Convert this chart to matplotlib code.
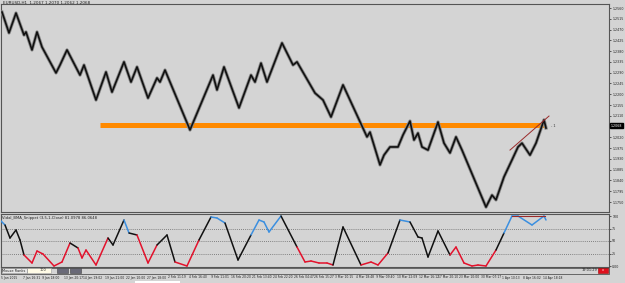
import numpy as np
import matplotlib
matplotlib.use("Agg")
import matplotlib.pyplot as plt
from matplotlib.collections import LineCollection
from matplotlib.patches import Rectangle

# ---------------- data ----------------
price_x = [2, 9, 16, 24, 26, 32, 37, 42, 56, 60, 67, 80, 84, 96, 106, 112, 124, 131, 137, 148,
           157, 160, 165, 190, 213, 217, 224, 239, 251, 255, 261, 267, 282, 293, 297, 315, 323,
           331, 343, 367, 370, 380, 384, 390, 398, 403, 410, 414, 418, 422, 428, 438, 444, 450,
           456, 462, 486, 492, 496, 504, 512, 518, 522, 530, 536, 544, 546]
price_y = [1.2543, 1.2456, 1.2539, 1.2447, 1.2460, 1.2385, 1.2460, 1.2397, 1.2289, 1.2322,
           1.2385, 1.2280, 1.2322, 1.2176, 1.2293, 1.2209, 1.2335, 1.2251, 1.2314, 1.2184,
           1.2268, 1.2251, 1.2301, 1.2051, 1.2280, 1.2218, 1.2314, 1.2143, 1.2280, 1.2251,
           1.2330, 1.2251, 1.2414, 1.2322, 1.2335, 1.2205, 1.2176, 1.2105, 1.2239, 1.2022,
           1.2042, 1.1905, 1.1946, 1.1980, 1.1980, 1.2030, 1.2088, 1.2009, 1.2038, 1.1980,
           1.1967, 1.2084, 1.1996, 1.1955, 1.2022, 1.1967, 1.1729, 1.1779, 1.1759, 1.1855,
           1.1926, 1.1980, 1.1996, 1.1946, 1.1996, 1.2093, 1.2059]

support_level = 1.2073
support_x = [100, 545]
trend_x = [510, 549]
trend_y = [1.1967, 1.2109]
last_price = 1.2068

osc_x = [0, 5, 10, 16, 20, 24, 32, 37, 43, 54, 62, 70, 78, 82, 86, 96, 108, 113, 124, 129,
         137, 148, 157, 167, 175, 187, 199, 211, 217, 225, 238, 251, 259, 264, 269, 281, 297,
         305, 311, 319, 327, 333, 343, 361, 371, 378, 388, 400, 410, 418, 422, 428, 438, 450,
         456, 464, 472, 478, 486, 496, 504, 512, 518, 532, 544, 546]
osc_v = [92, 82, 56, 72, 52, 22, 6, 30, 24, 0, 8, 46, 36, 16, 32, 2, 56, 42, 92, 66,
         62, 6, 42, 62, 8, 0, 52, 98, 96, 86, 12, 62, 92, 88, 68, 100, 38,
         8, 10, 6, 6, 2, 78, 2, 8, 2, 26, 92, 88, 58, 56, 18, 70, 22,
         38, 6, 0, 2, 0, 32, 66, 100, 100, 82, 100, 92]
osc_levels = [75, 50, 25]
osc_div_x = [512, 545]
osc_div_v = [101, 101]

price_ticks = [round(1.2560 - 0.0045 * k, 4) for k in range(19)]
date_pos = [0, 22, 41, 63, 82, 104, 125, 146, 167, 188, 210, 230, 251, 272, 293, 313, 334,
            355, 375, 396, 418, 437, 458, 480, 501, 522, 542]
date_labels = ["5 Jan 2015", "7 Jan 16:31", "9 Jan 18:00", "13 Jan 20:17", "14 Jan 19:02",
               "19 Jan 21:00", "22 Jan 10:00", "27 Jan 18:00", "2 Feb 11:19", "4 Feb 16:40",
               "9 Feb 11:01", "16 Feb 20:20", "21 Feb 13:40", "24 Feb 22:20", "26 Feb 04:47",
               "26 Feb 15:27", "3 Mar 10:15", "4 Mar 18:48", "9 Mar 09:40", "10 Mar 22:09",
               "12 Mar 16:12", "17 Mar 20:10", "23 Mar 10:00", "30 Mar 07:17", "1 Apr 10:13",
               "8 Apr 16:02", "14 Apr 18:18"]

# ---------------- figure ----------------
W, H = 625, 283
BG = "#d4d4d4"
fig = plt.figure(figsize=(W / 100, H / 100), dpi=100, facecolor=BG)


def fa(x0, y0, x1, y1):
    return [x0 / W, 1 - y1 / H, (x1 - x0) / W, (y1 - y0) / H]


ax = fig.add_axes(fa(1, 4, 609, 212))
ax.set_facecolor(BG)
ax.set_xlim(1, 609)
ax.set_ylim(1.17085, 1.25767)

# support band
ax.plot(support_x, [support_level, support_level], color="#ff8a00", lw=3.6,
        solid_capstyle="butt", zorder=2)
# price (renko-like)
ax.plot(price_x, price_y, color="#8a8a8a", lw=2.4, zorder=3)
ax.plot(price_x, price_y, color="#111111", lw=1.2, zorder=4)
# trend line
ax.plot(trend_x, trend_y, color="#9a2a2a", lw=0.7, zorder=5)
ax.text(551, last_price, "- 1", fontsize=2.6, color="#333333", va="center")

ax.yaxis.set_ticks_position("right")
ax.set_yticks(price_ticks)
tick_labels = [f"{t:.4f}" for t in price_ticks]
tick_labels[11] = ""
ax.set_yticklabels(tick_labels, fontsize=2.3, color="#222222")
ax.tick_params(axis="y", length=1.5, width=0.5, pad=0.8, colors="#222222")
ax.set_xticks([])
for s in ax.spines.values():
    s.set_color("#555555")
    s.set_linewidth(0.8)
ax.text(1.003, last_price, f"{last_price:.4f}", transform=ax.get_yaxis_transform(),
        fontsize=2.3, color="white", va="center", ha="left",
        bbox=dict(boxstyle="square,pad=0.15", fc="black", ec="black"), zorder=10,
        clip_on=False)

fig.text(3 / W, 1 - 2.5 / H, "EURUSD,H1  1.2067 1.2070 1.2062 1.2068", fontsize=3.0,
         color="#222222", va="center")

# ---------------- oscillator ----------------
ax2 = fig.add_axes(fa(1, 214, 609, 267))
ax2.set_facecolor(BG)
ax2.set_xlim(1, 609)
ax2.set_ylim(-2, 104)
for lv in osc_levels:
    ax2.axhline(lv, color="#666666", lw=0.6, ls=(0, (1, 1.5)), zorder=1)

pts = np.column_stack([osc_x, osc_v])
segs = np.stack([pts[:-1], pts[1:]], axis=1)
mids = (np.array(osc_v[:-1]) + np.array(osc_v[1:])) / 2
cols = ["#3b8fe0" if m > 75 else ("#e3122c" if m < 35 else "#111111") for m in mids]
lc = LineCollection(segs, colors=cols, linewidths=1.1, capstyle="round", joinstyle="round",
                    zorder=3)
ax2.add_collection(lc)
ax2.plot(osc_div_x, osc_div_v, color="#9a2a2a", lw=0.8, zorder=4, clip_on=False)

ax2.yaxis.set_ticks_position("right")
ax2.set_yticks([100, 75, 50, 25, 0])
ax2.set_yticklabels(["100", "75", "50", "25", "0.00"], fontsize=2.3, color="#222222")
ax2.tick_params(axis="y", length=1.5, width=0.5, pad=0.8, colors="#222222")
ax2.set_xticks([])
for s in ax2.spines.values():
    s.set_color("#555555")
    s.set_linewidth(0.8)
ax2.text(2, 101, "Vidal_BMA_Snippet (3,5,1,Close) 81.0978 86.0648", fontsize=2.7,
         color="#222222", va="top")

# ---------------- bottom bar ----------------
fig.patches.append(Rectangle((1 / W, 1 - 273.5 / H), 608 / W, 6 / H, transform=fig.transFigure,
                             fc=BG, ec="#555555", lw=0.6))
fig.text(2.5 / W, 1 - 270.5 / H, "Mouse Ranks", fontsize=2.5, color="#222222", va="center",
         bbox=dict(boxstyle="square,pad=0.2", fc="#e8e8e8", ec="#888888", lw=0.4))
fig.patches.append(Rectangle((27 / W, 1 - 272.5 / H), 24 / W, 4.5 / H,
                             transform=fig.transFigure, fc="#fffbe6", ec="#999999", lw=0.4))
fig.text(40 / W, 1 - 270.3 / H, "100", fontsize=2.5, color="#222222", va="center")
for bx in (57, 70):
    fig.patches.append(Rectangle((bx / W, 1 - 272.8 / H), 11 / W, 5 / H,
                                 transform=fig.transFigure, fc="#6a6a78", ec="#444444", lw=0.4))
fig.text(582 / W, 1 - 270.3 / H, "19:01:29", fontsize=2.5, color="#222222", va="center")
fig.patches.append(Rectangle((598 / W, 1 - 272.8 / H), 10 / W, 5 / H,
                             transform=fig.transFigure, fc="#e0101e", ec="#a00000", lw=0.4))
fig.text(603 / W, 1 - 270.3 / H, "x", fontsize=2.5, color="white", va="center", ha="center")

for pos, lab in zip(date_pos, date_labels):
    fig.text((pos + 1) / W, 1 - 277.5 / H, lab, fontsize=2.2, color="#222222", va="center")

fig.patches.append(Rectangle((135 / W, 0), 45 / W, 2 / H, transform=fig.transFigure,
                             fc="white", ec="none"))

fig.savefig("out.png", dpi=100, facecolor=BG)
